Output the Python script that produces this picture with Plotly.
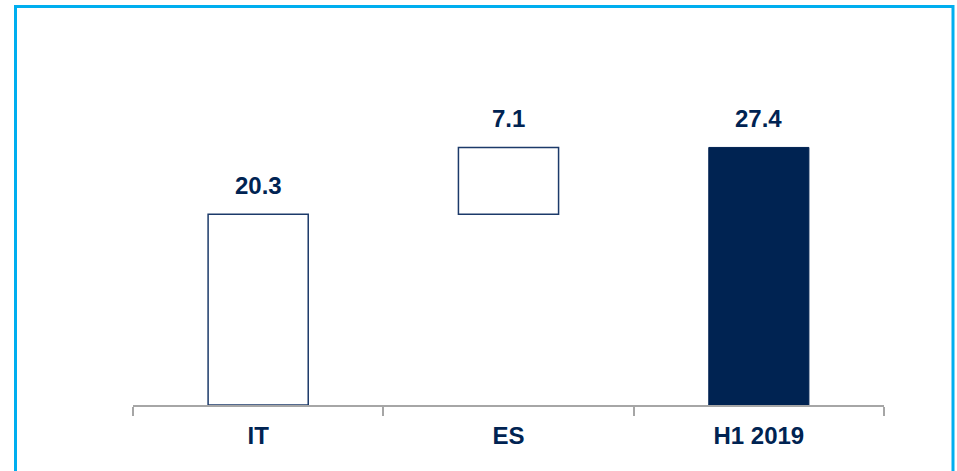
import plotly.graph_objects as go

categories = ["IT", "ES", "H1 2019"]
values = [20.3, 7.1, 27.4]
measures = ["relative", "relative", "total"]

NAVY = "#002352"
LINE_NAVY = "#1c3a6a"
FONT = "Liberation Sans, Arial, sans-serif"

W, H = 957, 471
L, R, T, B = 133, 73, 20, 66
plot_w = W - L - R
plot_h = H - T - B

# cumulative tops for labels
tops = []
run = 0
for v, m in zip(values, measures):
    if m == "total":
        tops.append(run)
    else:
        run += v
        tops.append(run)

fig = go.Figure()
fig.add_trace(go.Waterfall(
    x=categories,
    y=values,
    measure=measures,
    width=0.4,
    increasing=dict(marker=dict(color="white", line=dict(color=LINE_NAVY, width=1.5))),
    totals=dict(marker=dict(color=NAVY, line=dict(color=NAVY, width=1))),
    connector=dict(visible=False),
    textposition="none",
    hoverinfo="skip",
))

for c, top, v in zip(categories, tops, values):
    fig.add_annotation(x=c, y=top, text=f"<b>{v:.1f}</b>", showarrow=False,
                       yanchor="bottom", yshift=13,
                       font=dict(family=FONT, size=24, color=NAVY))

fig.add_shape(type="rect", xref="paper", yref="paper",
              x0=(15.5 - L) / plot_w, x1=(953 - L) / plot_w,
              y0=-0.5, y1=(H - B - 6.5) / plot_h,
              line=dict(color="#00AEEF", width=3), fillcolor="rgba(0,0,0,0)")

fig.update_layout(
    width=W, height=H,
    margin=dict(l=L, r=R, t=T, b=B),
    paper_bgcolor="white", plot_bgcolor="white",
    showlegend=False,
    xaxis=dict(
        showgrid=False, zeroline=False,
        showline=True, linecolor="#a6a6a6", linewidth=1.5,
        ticks="outside", tickson="boundaries", ticklen=9, tickcolor="#a6a6a6", tickwidth=1.5,
        tickfont=dict(family=FONT, size=24, color=NAVY, weight="bold"),
        ticklabelstandoff=8,
        range=[-0.5, 2.5],
    ),
    yaxis=dict(visible=False, range=[0, plot_h / 9.4], showgrid=False, zeroline=False),
)

fig.write_html("out.html", config={"displayModeBar": False},
               post_script="document.body.style.margin='0';document.body.style.overflow='hidden';")
